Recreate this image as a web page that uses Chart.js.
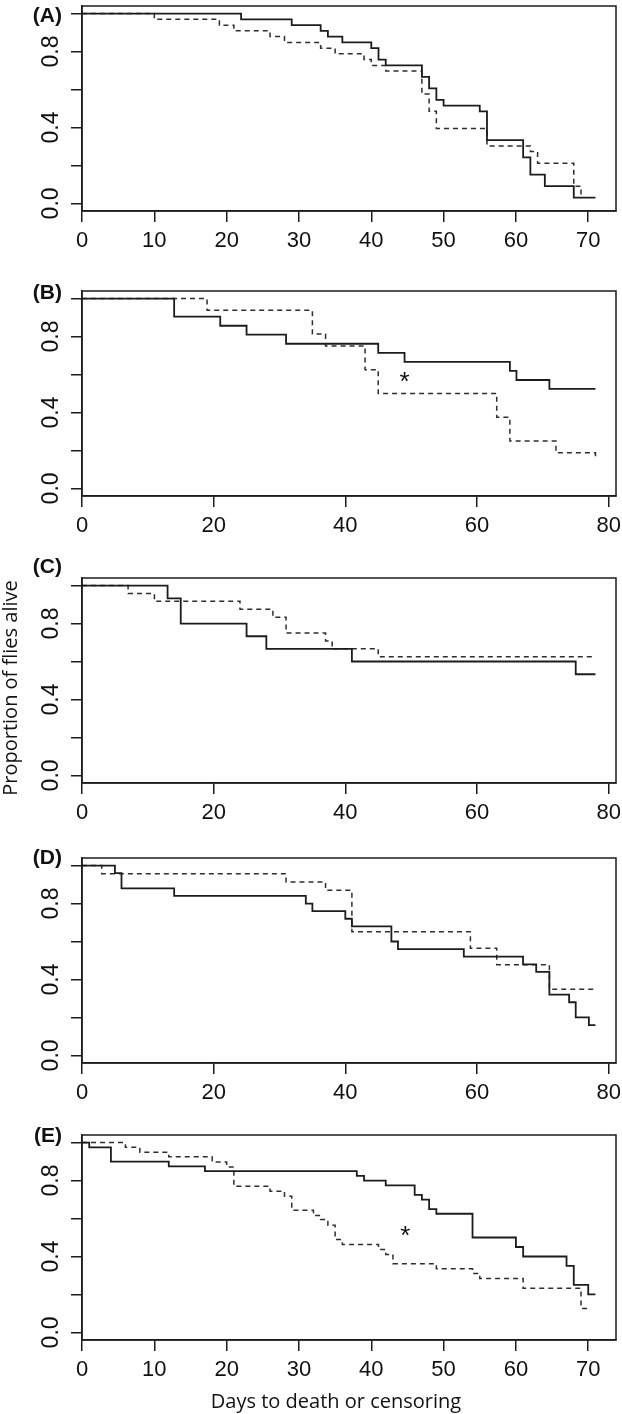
<!DOCTYPE html>
<html>
<head>
<meta charset="utf-8">
<script src="https://cdn.jsdelivr.net/npm/chart.js@4.4.0/dist/chart.umd.min.js"></script>
<style>
  html, body { margin: 0; padding: 0; background: #fff; }
  #wrap { position: relative; width: 622px; height: 1414px; overflow: hidden; }
  canvas { position: absolute; left: 0; }
</style>
</head>
<body>
<div id="wrap"></div>
<script>
// ===== DATA: days to death or censoring / proportion alive =====
// (A)
const daysA1 = [0, 22, 29, 33, 34, 36, 40, 41, 42, 47, 48, 49, 50, 55, 56, 61, 62, 64, 68, 71];
const survA1 = [1, 0.970, 0.939, 0.909, 0.879, 0.848, 0.818, 0.758, 0.727, 0.667, 0.606, 0.545, 0.515, 0.485, 0.333, 0.242, 0.152, 0.091, 0.030, 0.030];
const daysA2 = [0, 10, 19, 21, 26, 28, 33, 35, 39, 40, 42, 47, 48, 49, 56, 62, 63, 68, 69];
const survA2 = [1, 0.970, 0.939, 0.909, 0.879, 0.848, 0.818, 0.788, 0.758, 0.727, 0.697, 0.576, 0.485, 0.394, 0.303, 0.273, 0.212, 0.091, 0.030];
// (B)
const daysB1 = [0, 14, 21, 25, 31, 45, 49, 65, 66, 71, 78];
const survB1 = [1, 0.905, 0.857, 0.810, 0.762, 0.714, 0.667, 0.619, 0.571, 0.524, 0.524];
const daysB2 = [0, 19, 35, 37, 43, 45, 63, 65, 72, 78];
const survB2 = [1, 0.938, 0.813, 0.750, 0.625, 0.500, 0.375, 0.250, 0.188, 0.150];
// (C)
const daysC1 = [0, 13, 15, 25, 28, 41, 75, 78];
const survC1 = [1, 0.933, 0.800, 0.733, 0.667, 0.600, 0.533, 0.533];
const daysC2 = [0, 7, 11, 24, 29, 31, 37, 38, 45, 78];
const survC2 = [1, 0.958, 0.917, 0.875, 0.833, 0.750, 0.708, 0.667, 0.625, 0.625];
// (D)
const daysD1 = [0, 5, 6, 14, 34, 35, 40, 41, 47, 48, 58, 67, 69, 71, 74, 75, 77, 78];
const survD1 = [1, 0.96, 0.88, 0.84, 0.80, 0.76, 0.72, 0.68, 0.60, 0.56, 0.52, 0.48, 0.44, 0.32, 0.28, 0.20, 0.16, 0.16];
const daysD2 = [0, 3, 31, 37, 41, 59, 63, 71, 78];
const survD2 = [1, 0.957, 0.913, 0.870, 0.652, 0.565, 0.478, 0.348, 0.348];
// (E)
const daysE1 = [0, 1, 4, 12, 17, 38, 39, 42, 46, 47, 48, 49, 54, 60, 61, 67, 68, 70, 71];
const survE1 = [1, 0.975, 0.900, 0.875, 0.850, 0.825, 0.800, 0.775, 0.725, 0.700, 0.650, 0.625, 0.500, 0.450, 0.400, 0.350, 0.250, 0.200, 0.200];
const daysE2 = [0, 6, 8, 12, 18, 20, 21, 26, 28, 29, 32, 33, 34, 35, 36, 41, 42, 43, 49, 54, 55, 61, 69, 70];
const survE2 = [1, 0.975, 0.949, 0.925, 0.898, 0.872, 0.770, 0.744, 0.717, 0.644, 0.616, 0.595, 0.565, 0.489, 0.463, 0.437, 0.411, 0.362, 0.335, 0.311, 0.284, 0.232, 0.126, 0.126];

// ticks
const xTicks70 = [0, 10, 20, 30, 40, 50, 60, 70];
const xTicks80 = [0, 20, 40, 60, 80];
const yTicks = [0, 0.2, 0.4, 0.6, 0.8, 1];
const yLabelled = [0, 0.4, 0.8];

// significance marks (day, proportion)
const starB = [49, 0.596];
const starE = [44.7, 0.547];

// ===== LAYOUT =====
const INK = '#1c1c1c';
const BOX_H = 205;
const PAD_TOP = 22;
const AXIS_H = 50;
const PAGE_H = 1414;

Chart.defaults.font.family = '"Liberation Sans", Arial, sans-serif';
Chart.defaults.color = '#111';

const panels = [
  { label: '(A)', top: 6,    labelDy: 10,  xmax: 73.84, xticks: xTicks70, lines: [[daysA1, survA1], [daysA2, survA2]] },
  { label: '(B)', top: 291,  labelDy: 2,   xmax: 81.12, xticks: xTicks80, lines: [[daysB1, survB1], [daysB2, survB2]], star: starB },
  { label: '(C)', top: 578,  labelDy: -11, xmax: 81.12, xticks: xTicks80, lines: [[daysC1, survC1], [daysC2, survC2]], yTitle: 'Proportion of flies alive' },
  { label: '(D)', top: 858,  labelDy: 0,   xmax: 81.12, xticks: xTicks80, lines: [[daysD1, survD1], [daysD2, survD2]] },
  { label: '(E)', top: 1135, labelDy: 1,   xmax: 73.84, xticks: xTicks70, lines: [[daysE1, survE1], [daysE2, survE2]], star: starE, xTitle: 'Days to death or censoring' }
];

// box round the plot, panel letter, asterisk and axis titles
const framePlugin = {
  id: 'frame',
  afterDraw(chart, args, o) {
    const { ctx, chartArea: a, scales } = chart;
    ctx.save();
    ctx.strokeStyle = INK;
    ctx.lineWidth = 1.5;
    ctx.strokeRect(a.left, a.top, a.right - a.left, a.bottom - a.top);

    ctx.fillStyle = '#111';
    ctx.font = 'bold 21px "Liberation Sans", Arial, sans-serif';
    ctx.textAlign = 'right';
    ctx.textBaseline = 'middle';
    ctx.fillText(o.label, 62, a.top + o.labelDy);

    if (o.star) {
      const sx = scales.x.getPixelForValue(o.star[0]);
      const sy = scales.y.getPixelForValue(o.star[1]);
      ctx.font = '26px "Liberation Sans", Arial, sans-serif';
      ctx.textAlign = 'center';
      ctx.textBaseline = 'alphabetic';
      ctx.fillText('*', sx, sy + 15);
    }
    if (o.yTitle) {
      ctx.save();
      ctx.translate(16.5, a.top + 110);
      ctx.rotate(-Math.PI / 2);
      ctx.font = '20px "Open Sans", sans-serif';
      ctx.textAlign = 'center';
      ctx.textBaseline = 'alphabetic';
      ctx.fillText(o.yTitle, 0, 0);
      ctx.restore();
    }
    if (o.xTitle) {
      ctx.font = '20px "Open Sans", sans-serif';
      ctx.textAlign = 'center';
      ctx.textBaseline = 'alphabetic';
      ctx.fillText(o.xTitle, 336, a.bottom + 68);
    }
    ctx.restore();
  }
};

const wrap = document.getElementById('wrap');

panels.forEach((p, i) => {
  const last = i === panels.length - 1;
  const canvasTop = p.top - PAD_TOP;
  const h = last ? PAGE_H - canvasTop : PAD_TOP + BOX_H + AXIS_H;
  const canvas = document.createElement('canvas');
  canvas.width = 622;
  canvas.height = h;
  canvas.style.top = canvasTop + 'px';
  wrap.appendChild(canvas);

  const toPts = ([days, surv]) => days.map((d, k) => ({ x: d, y: surv[k] }));

  new Chart(canvas, {
    type: 'line',
    data: {
      datasets: [
        // Kaplan-Meier: hold the level, then drop at the event day
        { data: toPts(p.lines[0]), stepped: 'before', borderColor: INK, borderWidth: 1.8, pointRadius: 0, fill: false },
        { data: toPts(p.lines[1]), stepped: 'before', borderColor: '#2e2e2e', borderWidth: 1.5, borderDash: [5, 4], pointRadius: 0, fill: false }
      ]
    },
    options: {
      responsive: false,
      animation: false,
      devicePixelRatio: 1,
      layout: { padding: { top: PAD_TOP, right: 6, left: 0, bottom: h - PAD_TOP - BOX_H - AXIS_H } },
      plugins: {
        legend: { display: false },
        tooltip: { enabled: false },
        frame: { label: p.label, labelDy: p.labelDy, star: p.star, yTitle: p.yTitle, xTitle: p.xTitle }
      },
      scales: {
        x: {
          type: 'linear',
          min: 0,
          max: p.xmax,
          afterBuildTicks: s => { s.ticks = p.xticks.map(v => ({ value: v })); },
          afterFit: s => { s.height = AXIS_H; s.paddingLeft = 0; s.paddingRight = 0; },
          grid: { drawOnChartArea: false, drawTicks: true, tickLength: 11, tickColor: INK, lineWidth: 1.5 },
          border: { display: true, color: INK, width: 1.5 },
          ticks: { autoSkip: false, maxRotation: 0, padding: 6, color: '#111', font: { size: 22 } }
        },
        y: {
          type: 'linear',
          min: -0.04,
          max: 1.04,
          afterBuildTicks: s => { s.ticks = yTicks.map(v => ({ value: v })); },
          afterFit: s => { s.width = 82; s.paddingTop = 0; s.paddingBottom = 0; },
          grid: { drawOnChartArea: false, drawTicks: true, tickLength: 11, tickColor: INK, lineWidth: 1.5 },
          border: { display: true, color: INK, width: 1.5 },
          ticks: {
            autoSkip: false,
            minRotation: 90,
            maxRotation: 90,
            crossAlign: 'center',
            padding: 3.5,
            color: '#111',
            font: { size: 23 },
            callback: v => yLabelled.includes(v) ? v.toFixed(1) : ''
          }
        }
      }
    },
    plugins: [framePlugin]
  });
});
</script>
</body>
</html>
